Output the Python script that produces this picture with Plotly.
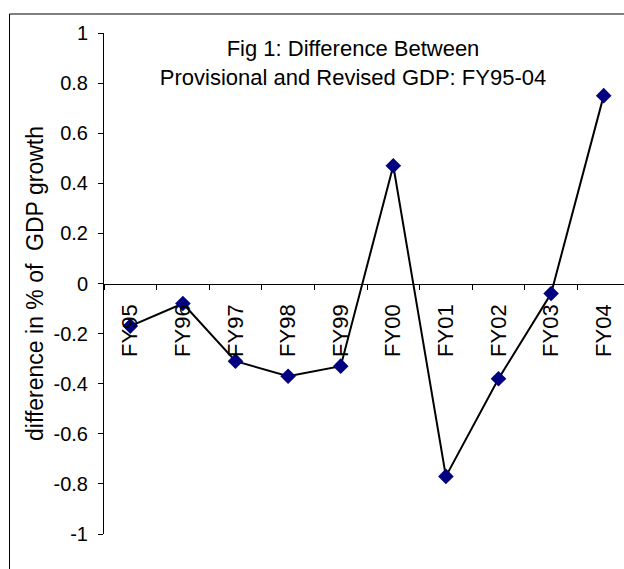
import plotly.graph_objects as go

categories = ["FY95", "FY96", "FY97", "FY98", "FY99", "FY00", "FY01", "FY02", "FY03", "FY04"]
values = [-0.17, -0.08, -0.31, -0.37, -0.33, 0.47, -0.77, -0.38, -0.04, 0.75]
y_ticks = [-1, -0.8, -0.6, -0.4, -0.2, 0, 0.2, 0.4, 0.6, 0.8, 1]
y_tick_text = ["-1", "-0.8", "-0.6", "-0.4", "-0.2", "0", "0.2", "0.4", "0.6", "0.8", "1"]

FONT = "Arial, Liberation Sans, sans-serif"

fig = go.Figure()
fig.add_trace(go.Scatter(
    x=categories, y=values, mode="lines+markers",
    line=dict(color="black", width=2),
    marker=dict(symbol="diamond", size=12, color="#000080", line=dict(width=0)),
    cliponaxis=False, showlegend=False,
))

fig.update_layout(
    width=624, height=569,
    margin=dict(l=104, r=0, t=33, b=35),
    paper_bgcolor="white", plot_bgcolor="white",
    font=dict(family=FONT, size=16, color="black"),
    title=dict(
        text="Fig 1: Difference Between<br>Provisional and Revised GDP: FY95-04",
        x=353/624, xref="container", xanchor="center",
        y=1 - 56/569, yref="container", yanchor="middle",
        font=dict(family=FONT, size=22, color="black"),
    ),
    xaxis=dict(
        type="category", range=[-0.5, 9.386],
        anchor="free", position=0.5,
        showline=True, linecolor="black", linewidth=1,
        ticks="outside", ticklen=5, tickcolor="black", tickson="boundaries",
        tickangle=-90, showgrid=False, zeroline=False,
        tickfont=dict(family=FONT, size=22, color="black"),
        ticklabelstandoff=11,
    ),
    yaxis=dict(
        range=[-1, 1], tickvals=y_ticks, ticktext=y_tick_text,
        showline=True, linecolor="black", linewidth=1,
        ticks="outside", ticklen=5, tickcolor="black",
        showgrid=False, zeroline=False,
        tickfont=dict(family=FONT, size=20, color="black"),
        ticklabelstandoff=6,
        title=dict(text="difference in % of  GDP growth",
                   font=dict(family=FONT, size=23, color="black"), standoff=3),
    ),
    shapes=[
        dict(type="line", xref="paper", yref="paper",
             x0=(9.5 - 104) / 520, x1=(9.5 - 104) / 520,
             y0=(534 - 14) / 501, y1=-0.2, line=dict(color="black", width=1)),
        dict(type="line", xref="paper", yref="paper",
             x0=(9.5 - 104) / 520, x1=1.05,
             y0=(534 - 14) / 501, y1=(534 - 14) / 501, line=dict(color="black", width=1)),
    ],
)

fig.write_html("out.html")
